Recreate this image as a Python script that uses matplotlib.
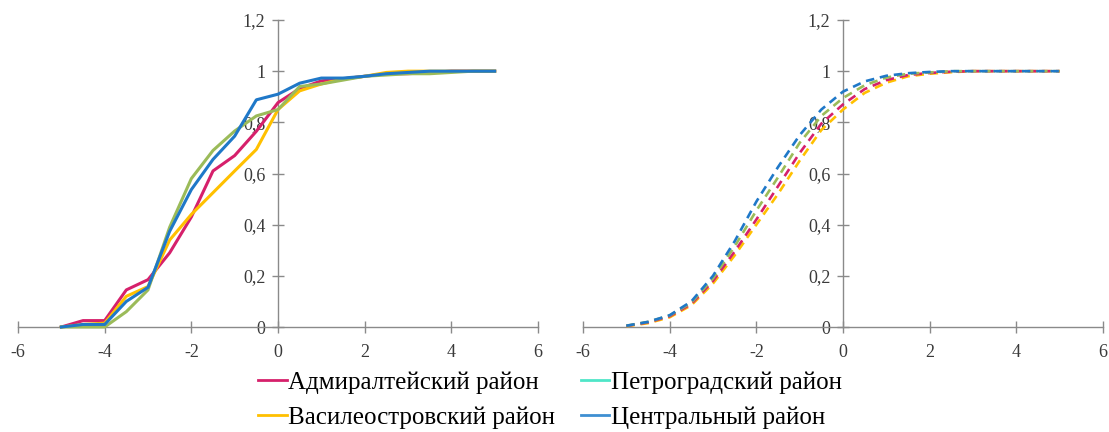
import matplotlib
matplotlib.use("Agg")
import matplotlib.pyplot as plt
from matplotlib.lines import Line2D

# ---------------- data ----------------
x_emp = [-5, -4.5, -4, -3.5, -3, -2.5, -2, -1.5, -1, -0.5, 0, 0.5, 1, 1.5, 2, 2.5, 3, 3.5, 4, 4.5, 5]

emp_admiralteysky = [0.0, 0.025, 0.025, 0.145, 0.185, 0.29, 0.43, 0.61, 0.67, 0.765, 0.877, 0.932, 0.962, 0.97, 0.98, 0.99, 0.99, 0.995, 1.0, 1.0, 1.0]
emp_vasileostrovsky = [0.0, 0.01, 0.015, 0.12, 0.158, 0.34, 0.44, 0.525, 0.61, 0.694, 0.85, 0.923, 0.95, 0.97, 0.98, 0.995, 1.0, 1.0, 1.0, 1.0, 1.0]
emp_petrogradsky = [0.0, 0.0, 0.0, 0.06, 0.145, 0.39, 0.58, 0.69, 0.766, 0.825, 0.85, 0.94, 0.95, 0.965, 0.98, 0.985, 0.99, 0.99, 0.995, 1.0, 1.0]
emp_centralny = [0.0, 0.01, 0.01, 0.10, 0.155, 0.374, 0.537, 0.655, 0.746, 0.888, 0.91, 0.953, 0.973, 0.973, 0.98, 0.99, 0.995, 1.0, 1.0, 1.0, 1.0]

x_fit = [-5, -4.5, -4, -3.5, -3, -2.5, -2, -1.5, -1, -0.5, 0, 0.5, 1, 1.5, 2, 2.5, 3, 3.5, 4, 4.5, 5]

fit_admiralteysky = [0.004, 0.018, 0.042, 0.09, 0.18, 0.295, 0.42, 0.55, 0.68, 0.795, 0.87, 0.93, 0.965, 0.985, 0.993, 0.998, 1.0, 1.0, 1.0, 1.0, 1.0]
fit_vasileostrovsky = [0.003, 0.015, 0.038, 0.085, 0.17, 0.28, 0.40, 0.52, 0.65, 0.77, 0.85, 0.915, 0.955, 0.98, 0.99, 0.996, 1.0, 1.0, 1.0, 1.0, 1.0]
fit_petrogradsky = [0.005, 0.02, 0.045, 0.095, 0.19, 0.315, 0.455, 0.585, 0.72, 0.825, 0.895, 0.945, 0.975, 0.99, 0.995, 1.0, 1.0, 1.0, 1.0, 1.0, 1.0]
fit_centralny = [0.005, 0.02, 0.046, 0.10, 0.20, 0.335, 0.49, 0.625, 0.75, 0.85, 0.92, 0.96, 0.982, 0.992, 0.997, 1.0, 1.0, 1.0, 1.0, 1.0, 1.0]

labels = ["Адмиралтейский район", "Василеостровский район", "Петроградский район", "Центральный район"]
x_ticks = [-6, -4, -2, 0, 2, 4, 6]
y_ticks = [0, 0.2, 0.4, 0.6, 0.8, 1.0, 1.2]
y_tick_labels = ["0", "0,2", "0,4", "0,6", "0,8", "1", "1,2"]

# ---------------- style ----------------
c_mag = "#D6206B"
c_yel = "#FFC000"
c_grn = "#9BBB59"
c_blu = "#1F78C8"
legend_colors = [c_mag, c_yel, "#4FE6C8", "#3F8FD2"]

plt.rcParams['font.family'] = ['Liberation Serif', 'DejaVu Serif']

W, H = 1109, 432
fig = plt.figure(figsize=(W / 100, H / 100), dpi=100)

def make_axes(left_px, right_px, top_px, bottom_px):
    ax = fig.add_axes([left_px / W, (H - bottom_px) / H, (right_px - left_px) / W, (bottom_px - top_px) / H])
    ax.set_xlim(-6, 6)
    ax.set_ylim(0, 1.2)
    ax.spines['left'].set_position(('data', 0))
    ax.spines['right'].set_visible(False)
    ax.spines['top'].set_visible(False)
    for s in ('left', 'bottom'):
        ax.spines[s].set_color('#8a8a8a')
        ax.spines[s].set_linewidth(1.0)
    ax.set_xticks(x_ticks)
    ax.set_xticklabels([str(t) for t in x_ticks])
    ax.set_yticks(y_ticks)
    ax.set_yticklabels(y_tick_labels)
    ax.tick_params(axis='both', direction='inout', length=8, width=1.0, color='#8a8a8a',
                   labelsize=13, labelcolor='#3a3a3a')
    ax.tick_params(axis='x', pad=8)
    ax.tick_params(axis='y', pad=5)
    ax.patch.set_alpha(0)
    return ax

ax1 = make_axes(18, 538, 20, 327)
ax2 = make_axes(583, 1103, 20, 327)

lw = 2.2
ax1.plot(x_emp, emp_admiralteysky, color=c_mag, lw=lw, clip_on=False, zorder=3)
ax1.plot(x_emp, emp_vasileostrovsky, color=c_yel, lw=lw, clip_on=False, zorder=3)
ax1.plot(x_emp, emp_petrogradsky, color=c_grn, lw=lw, clip_on=False, zorder=3)
ax1.plot(x_emp, emp_centralny, color=c_blu, lw=lw, clip_on=False, zorder=3)

dl = 1.9
dash = (3.2, 2.2)
ax2.plot(x_fit, fit_vasileostrovsky, color=c_yel, lw=dl, dashes=dash, clip_on=False, zorder=3)
ax2.plot(x_fit, fit_admiralteysky, color=c_mag, lw=dl, dashes=dash, clip_on=False, zorder=3)
ax2.plot(x_fit, fit_petrogradsky, color=c_grn, lw=dl, dashes=dash, clip_on=False, zorder=3)
ax2.plot(x_fit, fit_centralny, color=c_blu, lw=dl, dashes=dash, clip_on=False, zorder=3)

handles = [Line2D([0], [0], color=c, lw=2.0) for c in legend_colors]
fig.legend(handles, labels, ncol=2, loc='center', bbox_to_anchor=(550 / W, 1 - 400 / H),
           frameon=False, fontsize=18, handlelength=1.15, handletextpad=0.08,
           columnspacing=1.0, labelspacing=0.5, borderpad=0.1)

fig.savefig("out.png", dpi=100, facecolor='white')
